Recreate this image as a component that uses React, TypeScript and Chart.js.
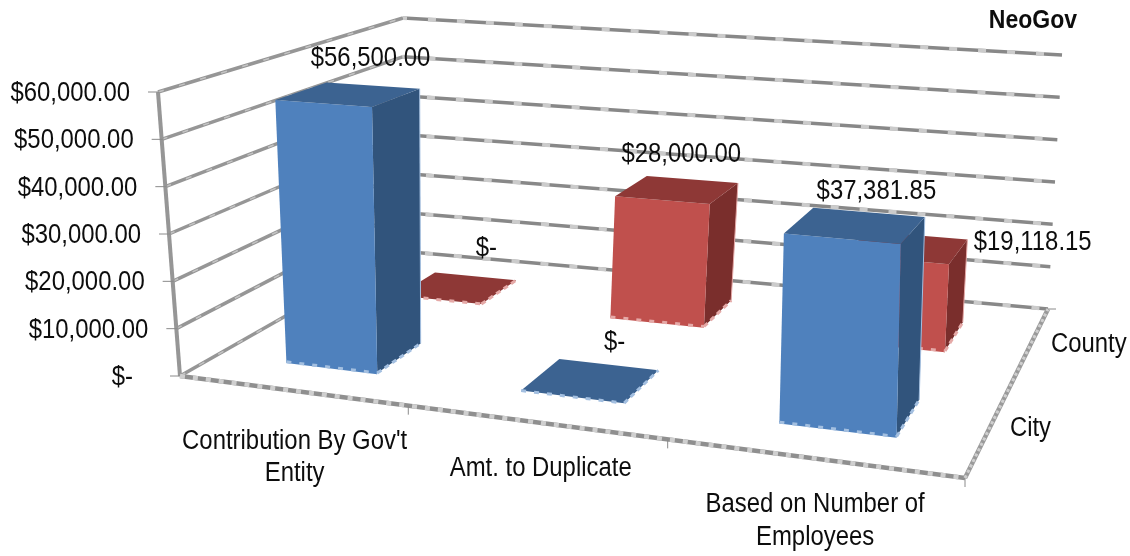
import React, { useEffect, useRef } from "react";
import { Chart, registerables } from "chart.js";

Chart.register(...registerables);

const categories: (string | string[])[] = [["Contribution By Gov't", "Entity"], "Amt. to Duplicate", ["Based on Number of", "Employees"]];
const seriesNames = ["City", "County"];
const cityValues = [56500, 0, 37381.85];
const countyValues = [0, 28000, 19118.15];
const chartTitle = "NeoGov";

// Frame of the 3-D box: floor and ceiling corners (front-left, front-right, back-right, back-left)
const FLOOR = [[180, 376], [965, 478], [1048, 309], [400, 251]];
const CEILING = [[158, 92], [968, 151], [1062, 55], [403, 18]];
const CAT_SHIFT = [
  [0.006, 0.011, 0.006],
  [0.01, 0.011, 0.001],
];
const BAR_HALF_U = 0.068;
const BAR_HALF_V = 0.1;
const LABEL_OFFSETS = [
  [[22, -36], [24, -38], [21, -34]],
  [[29, -39], [4, -35], [126, -5]],
];
const CAT_LABEL_OFFSETS = [[4, 51], [7, 47], [4, 47]];
const FONT = '"Liberation Sans", sans-serif';
const STRETCH = 0.885;
const FONT_SIZE = 27;

const COLORS = [
  { front: "#4F81BD", top: "#3C6391", side: "#31547C", edge: "#A3BFE0" },
  { front: "#C0504D", top: "#8E3836", side: "#7A2E2C", edge: "#E5A9A7" },
];

type Pt = number[];

function homography(c: number[][]) {
  const [p0, p1, p2, p3] = c;
  const dx1 = p1[0] - p2[0], dx2 = p3[0] - p2[0], sx = p0[0] - p1[0] + p2[0] - p3[0];
  const dy1 = p1[1] - p2[1], dy2 = p3[1] - p2[1], sy = p0[1] - p1[1] + p2[1] - p3[1];
  const det = dx1 * dy2 - dx2 * dy1;
  const g = (sx * dy2 - dx2 * sy) / det;
  const h = (dx1 * sy - sx * dy1) / det;
  const a = p1[0] * (1 + g) - p0[0], b = p3[0] * (1 + h) - p0[0];
  const d = p1[1] * (1 + g) - p0[1], e = p3[1] * (1 + h) - p0[1];
  return (u: number, v: number): Pt => {
    const w = 1 + g * u + h * v;
    return [(a * u + b * v + p0[0]) / w, (d * u + e * v + p0[1]) / w];
  };
}
const floorH = homography(FLOOR);
const ceilH = homography(CEILING);
function proj(u: number, v: number, h: number): Pt {
  const b = floorH(u, v), t = ceilH(u, v);
  return [b[0] + (t[0] - b[0]) * h, b[1] + (t[1] - b[1]) * h];
}

function money(v: number) {
  return v === 0 ? "$-" : "$" + v.toLocaleString("en-US", { minimumFractionDigits: 2, maximumFractionDigits: 2 });
}

function poly(ctx: CanvasRenderingContext2D, pts: Pt[], fill: string) {
  ctx.beginPath();
  pts.forEach((p, i) => (i ? ctx.lineTo(p[0], p[1]) : ctx.moveTo(p[0], p[1])));
  ctx.closePath();
  ctx.fillStyle = fill;
  ctx.fill();
}
function line(ctx: CanvasRenderingContext2D, pts: Pt[], color: string, width: number, dash: number[] = [], off = 0) {
  ctx.beginPath();
  pts.forEach((p, i) => (i ? ctx.lineTo(p[0], p[1]) : ctx.moveTo(p[0], p[1])));
  ctx.strokeStyle = color;
  ctx.lineWidth = width;
  ctx.setLineDash(dash);
  ctx.lineDashOffset = off;
  ctx.stroke();
  ctx.setLineDash([]);
}
function text(ctx: CanvasRenderingContext2D, s: string, x: number, y: number, align: "left" | "center" | "right", font = `${FONT_SIZE}px ${FONT}`) {
  ctx.save();
  ctx.font = font;
  ctx.textBaseline = "middle";
  ctx.textAlign = align;
  ctx.fillStyle = "#0d0d0d";
  ctx.translate(x, y);
  ctx.scale(STRETCH, 1);
  ctx.fillText(s, 0, 0);
  ctx.restore();
}

const box3d = {
  id: "box3d",
  beforeDatasetsDraw(chart: any) {
    const { ctx, scales } = chart;
    const xs = scales.x, ys = scales.y;
    const uOf = (i: number) => (xs.getPixelForValue(i) - xs.left) / xs.width;
    const hOf = (v: number) => (ys.bottom - ys.getPixelForValue(v)) / ys.height;
    const vOf = (s: number) => (s + 0.5) / seriesNames.length;
    const values: number[] = ys.ticks.map((t: any) => t.value);

    ctx.save();
    ctx.lineCap = "butt";
    ctx.filter = "blur(0.55px)";
    // walls: gridlines run along the left wall, then along the back wall
    values.forEach((val) => {
      const h = hOf(val);
      const a = proj(0, 0, h), b = proj(0, 1, h), c = proj(1, 1, h);
      line(ctx, [a, b], "#969696", 3.5);
      line(ctx, [a, b], "#C4C4C4", 1.5, [6, 16]);
      line(ctx, [b, c], "#888888", 3.5);
      line(ctx, [b, c], "#CBCBCB", 4, [8, 21], 4);
    });
    // vertical axis and ticks
    line(ctx, [proj(0, 0, 0), proj(0, 0, 1)], "#969696", 4);
    ys.ticks.forEach((t: any) => {
      const p = proj(0, 0, hOf(t.value));
      line(ctx, [[p[0] - 10, p[1]], [p[0] + 1, p[1]]], "#8A8A8A", 1);
      const right = p[0] - 28 - (t.value === 0 ? 19 : 0);
      text(ctx, money(t.value), right, p[1] + 1.5, "right");
    });
    // floor edges
    const fl = proj(0, 0, 0), fr = proj(1, 0, 0), br = proj(1, 1, 0);
    line(ctx, [fl, fr], "#8F8F8F", 4.5);
    line(ctx, [fl, fr], "#CFCFCF", 4.5, [5, 8]);
    line(ctx, [fr, br], "#9A9A9A", 4.5);
    line(ctx, [fr, br], "#CFCFCF", 3, [3, 3]);
    categories.forEach((_, i) => {
      const p = proj(i / categories.length, 0, 0);
      if (i) line(ctx, [p, [p[0], p[1] + 9]], "#8A8A8A", 1);
    });
    line(ctx, [fr, [fr[0], fr[1] + 9]], "#8A8A8A", 1);
    line(ctx, [br, [br[0] + 8, br[1]]], "#8A8A8A", 1);

    // bars: back row first
    for (let s = chart.data.datasets.length - 1; s >= 0; s--) {
      const col = COLORS[s];
      const v0 = vOf(s) - BAR_HALF_V, v1 = vOf(s) + BAR_HALF_V;
      chart.data.datasets[s].data.forEach((val: number, i: number) => {
        const uc = uOf(i) + CAT_SHIFT[s][i];
        const u0 = uc - BAR_HALF_U, u1 = uc + BAR_HALF_U;
        const h = hOf(val);
        const fbl = proj(u0, v0, 0), fbr = proj(u1, v0, 0), bbr = proj(u1, v1, 0);
        const ftl = proj(u0, v0, h), ftr = proj(u1, v0, h), btr = proj(u1, v1, h), btl = proj(u0, v1, h);
        poly(ctx, [fbr, bbr, btr, ftr], col.side);
        poly(ctx, [fbl, fbr, ftr, ftl], col.front);
        poly(ctx, [ftl, ftr, btr, btl], col.top);
        if (val > 0) {
          line(ctx, [btr, bbr], col.edge, 1);
          line(ctx, [fbl, fbr], col.front, 2.5);
        }
        line(ctx, [fbl, fbr], col.edge, 3, [5, 8]);
        line(ctx, [fbr, bbr], col.edge, 3, [5, 4]);
      });
    }

    // data labels
    chart.data.datasets.forEach((ds: any, s: number) => {
      ds.data.forEach((val: number, i: number) => {
        const p = proj(uOf(i) + CAT_SHIFT[s][i], vOf(s), hOf(val));
        const o = LABEL_OFFSETS[s][i];
        text(ctx, money(val), p[0] + o[0], p[1] + o[1], "center");
      });
    });

    // category labels
    categories.forEach((lab, i) => {
      const p = proj(uOf(i), 0, 0);
      const o = CAT_LABEL_OFFSETS[i];
      const lines = Array.isArray(lab) ? lab : [lab];
      lines.forEach((t, k) => text(ctx, t, p[0] + o[0], p[1] + o[1] + k * 32.5, "center"));
    });

    // series labels along the depth axis
    seriesNames.forEach((n, s) => {
      const p = proj(1, vOf(s), 0);
      text(ctx, n, p[0] + 20, p[1] + 1, "left");
    });

    // title
    text(ctx, chartTitle, 1077, 21, "right", `bold 26px ${FONT}`);
    ctx.restore();
    return false;
  },
};

export default function App() {
  const ref = useRef<HTMLCanvasElement>(null);
  useEffect(() => {
    const chart = new Chart(ref.current as HTMLCanvasElement, {
      type: "bar",
      data: {
        labels: categories as any,
        datasets: [
          { label: seriesNames[0], data: cityValues, backgroundColor: COLORS[0].front },
          { label: seriesNames[1], data: countyValues, backgroundColor: COLORS[1].front },
        ],
      },
      options: {
        animation: false,
        responsive: false,
        devicePixelRatio: 1,
        plugins: {
          legend: { display: false },
          tooltip: { enabled: false },
          title: { display: false, text: chartTitle },
        },
        scales: {
          x: { display: false, offset: true },
          y: { display: false, min: 0, max: 60000, ticks: { stepSize: 10000, callback: (v: any) => money(Number(v)) } },
        },
      },
      plugins: [box3d as any],
    });
    return () => chart.destroy();
  }, []);
  return (
    <div style={{ position: "absolute", left: 0, top: 0, width: 1130, height: 556, background: "#fff" }}>
      <canvas ref={ref} width={1130} height={556} style={{ display: "block" }} />
    </div>
  );
}
